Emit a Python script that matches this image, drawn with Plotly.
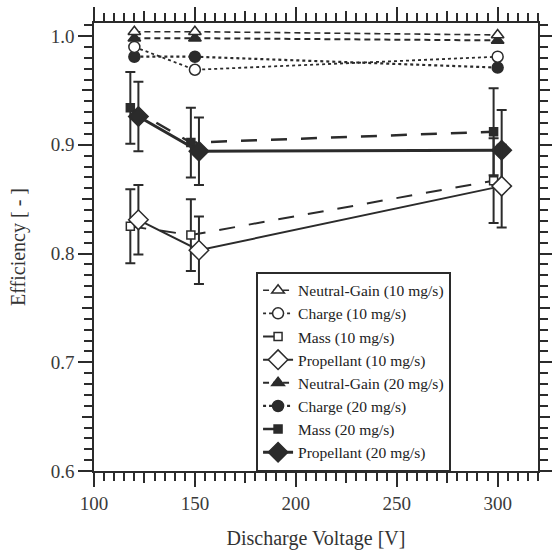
import plotly.graph_objects as go

# ---- data ----
v_ng = [120, 150, 300]
v_ch = [120, 150, 300]
v_mass = [118, 148, 298]
v_prop = [122, 152, 302]

neutral_10 = [1.004, 1.004, 1.001]
charge_10 = [0.990, 0.969, 0.981]
mass_10 = [0.825, 0.817, 0.867]
mass_10_err = [0.034, 0.033, 0.039]
prop_10 = [0.831, 0.803, 0.862]
prop_10_err = [0.032, 0.031, 0.038]

neutral_20 = [0.998, 0.998, 0.996]
charge_20 = [0.981, 0.981, 0.971]
mass_20 = [0.934, 0.902, 0.912]
mass_20_err = [0.033, 0.032, 0.040]
prop_20 = [0.926, 0.894, 0.895]
prop_20_err = [0.032, 0.031, 0.037]

x_ticks = [100, 150, 200, 250, 300]
y_ticks = [0.6, 0.7, 0.8, 0.9, 1.0]
x_mid_ticks = [125, 175, 225, 275]
y_mid_ticks = [0.65, 0.75, 0.85, 0.95]

C = "#2b2b2b"
FONT = "Times New Roman, Liberation Serif, DejaVu Serif, serif"

fig = go.Figure()


def add(name, x, y, dash, lw, symbol, size, filled, rank, err=None):
    fig.add_trace(go.Scatter(
        x=x, y=y, name=name, mode="lines+markers",
        line=dict(color=C, width=lw, dash=dash),
        marker=dict(symbol=symbol, size=size,
                    color=C if filled else "white",
                    line=dict(color=C, width=1.5)),
        error_y=(dict(type="data", array=err, visible=True, color=C,
                      thickness=2, width=5) if err else None),
        legendrank=rank,
    ))


# 20 mg/s drawn first (under), 10 mg/s on top
add("Neutral-Gain (20 mg/s)", v_ng, neutral_20, "6px,4px", 2, "triangle-up", 11, True, 5)
add("Charge (20 mg/s)", v_ch, charge_20, "3px,3px", 2.2, "circle", 11, True, 6)
add("Mass (20 mg/s)", v_mass, mass_20, "16px,14px", 2.5, "square", 8, True, 7, mass_20_err)
add("Propellant (20 mg/s)", v_prop, prop_20, "solid", 3, "diamond", 15, True, 8, prop_20_err)
add("Neutral-Gain (10 mg/s)", v_ng, neutral_10, "6px,4px", 1.6, "triangle-up", 11, False, 1)
add("Charge (10 mg/s)", v_ch, charge_10, "3px,3px", 1.8, "circle", 11, False, 2)
add("Mass (10 mg/s)", v_mass, mass_10, "16px,14px", 2, "square", 8, False, 3, mass_10_err)
add("Propellant (10 mg/s)", v_prop, prop_10, "solid", 2, "diamond", 15, False, 4, prop_10_err)

TF = dict(family=FONT, size=19, color="#3a3a3a")
TT = dict(family=FONT, size=20, color="#333")
LF = dict(family=FONT, size=15.5, color="#222")
axis_common = dict(
    showline=True, linecolor=C, linewidth=1.5, mirror="allticks",
    ticks="outside", tickcolor=C, tickwidth=1.5, ticklen=14,
    showgrid=False, zeroline=False, automargin=False,
    tickfont=TF, title_font=TT,
)

fig.update_xaxes(**axis_common, range=[100, 320], tickvals=x_ticks,
                 ticktext=[str(t) for t in x_ticks],
                 minor=dict(dtick=5, ticklen=8, tickwidth=1.5, tickcolor=C, ticks="outside"),
                 title_text="Discharge Voltage [V]", title_standoff=18)
fig.update_yaxes(**axis_common, range=[0.6, 1.012], tickvals=y_ticks,
                 ticktext=["%.1f" % t for t in y_ticks],
                 minor=dict(dtick=0.01, ticklen=8, tickwidth=1.5, tickcolor=C, ticks="outside"),
                 title_text="Efficiency [ - ]", title_standoff=20)

# medium-length ticks at the half steps (overlay axes, no labels)
mid = dict(showline=False, showgrid=False, zeroline=False, ticks="outside",
           tickcolor=C, tickwidth=1.5, ticklen=11, showticklabels=False,
           mirror="allticks", automargin=False)
fig.update_layout(
    xaxis2=dict(**mid, overlaying="x", matches="x", tickvals=x_mid_ticks, anchor="y"),
    yaxis2=dict(**mid, overlaying="y", matches="y", tickvals=y_mid_ticks, anchor="x"),
)
fig.add_trace(go.Scatter(x=[None], y=[None], xaxis="x2", yaxis="y2",
                         showlegend=False, hoverinfo="skip"))

fig.update_layout(
    width=552, height=553,
    margin=dict(l=94, r=14, t=23, b=82),
    paper_bgcolor="white", plot_bgcolor="white",
    font=TF,
    legend=dict(x=0.365, y=0.445, xanchor="left", yanchor="top",
                bgcolor="white", bordercolor=C, borderwidth=2,
                font=LF, tracegroupgap=0),
)

fig.write_html("out.html", config={"displayModeBar": False},
               post_script="document.body.style.margin='0';document.body.style.overflow='hidden';")
